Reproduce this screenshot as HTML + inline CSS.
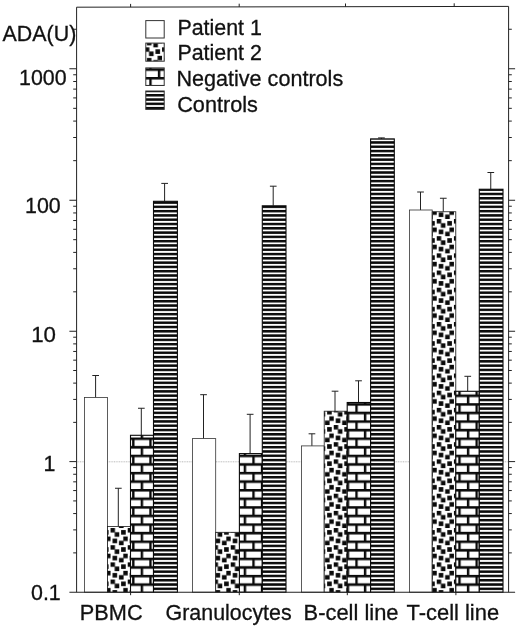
<!DOCTYPE html>
<html lang="en"><head><meta charset="utf-8"><title>ADA activity</title>
<style>html,body{margin:0;padding:0;background:#fff}svg{display:block}text{font-family:"Liberation Sans",Arial,Helvetica,sans-serif;fill:#111;stroke:#111;stroke-width:0.3px}</style>
</head><body>
<svg width="520" height="626" viewBox="0 0 520 626">
<defs>
<pattern id="ps" patternUnits="userSpaceOnUse" x="0" y="201.300" width="20" height="4.292"><rect width="20" height="4.292" fill="#fff"/><rect width="20" height="2.496" fill="#0a0a0a"/></pattern>
<pattern id="pb" patternUnits="userSpaceOnUse" x="132.130" y="437.530" width="17.168" height="17.168"><rect width="17.168" height="17.168" fill="#fff"/><rect x="0" y="-0.15" width="17.168" height="2.646" fill="#0a0a0a"/><rect x="0" y="8.434" width="17.168" height="2.646" fill="#0a0a0a"/><rect x="-0.05" y="0" width="2.446" height="8.584" fill="#0a0a0a"/><rect x="8.534" y="8.584" width="2.446" height="8.584" fill="#0a0a0a"/></pattern>
<pattern id="pd" patternUnits="userSpaceOnUse" x="110.550" y="528.050" width="17.168" height="17.168"><rect width="17.168" height="17.168" fill="#fff"/><rect x="-0.150" y="-0.150" width="4.592" height="4.592" fill="#0a0a0a"/><rect x="10.580" y="1.996" width="4.592" height="4.592" fill="#0a0a0a"/><rect x="4.142" y="4.142" width="4.592" height="4.592" fill="#0a0a0a"/><rect x="12.726" y="8.434" width="4.592" height="4.592" fill="#0a0a0a"/><rect x="1.996" y="10.580" width="4.592" height="4.592" fill="#0a0a0a"/><rect x="8.434" y="12.726" width="4.592" height="4.592" fill="#0a0a0a"/></pattern>
</defs>
<rect width="520" height="626" fill="#fff"/>
<line x1="76.6" y1="461.80" x2="508.6" y2="461.80" stroke="#8c8c8c" stroke-width="0.6" stroke-dasharray="1 0.7"/>
<path d="M95.60 397.50V375.50M92.30 375.50H99.00" stroke="#222" stroke-width="1" fill="none"/>
<rect x="84.50" y="397.50" width="23.00" height="194.70" fill="#fff" stroke="#333" stroke-width="0.8"/>
<path d="M118.30 526.50V488.25M115.00 488.25H121.70" stroke="#222" stroke-width="1" fill="none"/>
<rect x="107.50" y="526.50" width="23.00" height="65.70" fill="url(#pd)" stroke="#1a1a1a" stroke-width="0.8"/>
<path d="M141.30 435.30V408.25M138.00 408.25H144.70" stroke="#222" stroke-width="1" fill="none"/>
<rect x="130.50" y="435.30" width="23.00" height="156.90" fill="url(#pb)" stroke="#0a0a0a" stroke-width="1.1"/>
<path d="M164.60 201.30V183.40M161.30 183.40H168.00" stroke="#222" stroke-width="1" fill="none"/>
<rect x="153.50" y="201.30" width="23.90" height="390.90" fill="url(#ps)" stroke="#0a0a0a" stroke-width="1.1"/>
<path d="M203.50 438.60V394.70M200.20 394.70H206.90" stroke="#222" stroke-width="1" fill="none"/>
<rect x="192.40" y="438.60" width="23.30" height="153.60" fill="#fff" stroke="#333" stroke-width="0.8"/>
<rect x="215.70" y="532.30" width="23.70" height="59.90" fill="url(#pd)" stroke="#1a1a1a" stroke-width="0.8"/>
<path d="M250.10 453.60V414.30M246.80 414.30H253.50" stroke="#222" stroke-width="1" fill="none"/>
<rect x="239.40" y="453.60" width="22.90" height="138.60" fill="url(#pb)" stroke="#0a0a0a" stroke-width="1.1"/>
<path d="M273.20 205.80V186.20M269.90 186.20H276.60" stroke="#222" stroke-width="1" fill="none"/>
<rect x="262.30" y="205.80" width="23.70" height="386.40" fill="url(#ps)" stroke="#0a0a0a" stroke-width="1.1"/>
<path d="M311.90 445.90V433.80M308.60 433.80H315.30" stroke="#222" stroke-width="1" fill="none"/>
<rect x="301.50" y="445.90" width="22.70" height="146.30" fill="#fff" stroke="#333" stroke-width="0.8"/>
<path d="M335.00 411.20V391.20M331.70 391.20H338.40" stroke="#222" stroke-width="1" fill="none"/>
<rect x="324.20" y="411.20" width="23.00" height="181.00" fill="url(#pd)" stroke="#1a1a1a" stroke-width="0.8"/>
<path d="M358.50 402.50V380.80M355.20 380.80H361.90" stroke="#222" stroke-width="1" fill="none"/>
<rect x="347.20" y="402.50" width="23.40" height="189.70" fill="url(#pb)" stroke="#0a0a0a" stroke-width="1.1"/>
<path d="M381.40 138.90V137.90M378.10 137.90H384.80" stroke="#222" stroke-width="1" fill="none"/>
<rect x="370.60" y="138.90" width="23.70" height="453.30" fill="url(#ps)" stroke="#0a0a0a" stroke-width="1.1"/>
<path d="M420.50 210.00V192.00M417.20 192.00H423.90" stroke="#222" stroke-width="1" fill="none"/>
<rect x="409.50" y="210.00" width="22.70" height="382.20" fill="#fff" stroke="#333" stroke-width="0.8"/>
<path d="M443.25 211.75V198.25M439.95 198.25H446.65" stroke="#222" stroke-width="1" fill="none"/>
<rect x="432.20" y="211.75" width="23.60" height="380.45" fill="url(#pd)" stroke="#1a1a1a" stroke-width="0.8"/>
<path d="M467.70 391.30V376.30M464.40 376.30H471.10" stroke="#222" stroke-width="1" fill="none"/>
<rect x="455.80" y="391.30" width="23.50" height="200.90" fill="url(#pb)" stroke="#0a0a0a" stroke-width="1.1"/>
<path d="M490.75 189.25V172.50M487.45 172.50H494.15" stroke="#222" stroke-width="1" fill="none"/>
<rect x="479.30" y="189.25" width="23.70" height="402.95" fill="url(#ps)" stroke="#0a0a0a" stroke-width="1.1"/>
<path d="M76.6 592.2V7.2L508.6 6.40V592.2" stroke="#222" stroke-width="1" fill="none"/>
<path d="M69.40 592.2H515.10" stroke="#222" stroke-width="1.1" fill="none"/>
<path d="M73.20 552.89H76.6M508.6 552.89h3.2M73.20 529.89H76.6M508.6 529.89h3.2M73.20 513.57H76.6M508.6 513.57h3.2M73.20 500.91H76.6M508.6 500.91h3.2M73.20 490.57H76.6M508.6 490.57h3.2M73.20 481.83H76.6M508.6 481.83h3.2M73.20 474.26H76.6M508.6 474.26h3.2M73.20 467.58H76.6M508.6 467.58h3.2M69.40 461.60H76.6M508.6 461.60h6.5M73.20 422.36H76.6M508.6 422.36h3.2M73.20 399.41H76.6M508.6 399.41h3.2M73.20 383.12H76.6M508.6 383.12h3.2M73.20 370.49H76.6M508.6 370.49h3.2M73.20 360.17H76.6M508.6 360.17h3.2M73.20 351.44H76.6M508.6 351.44h3.2M73.20 343.88H76.6M508.6 343.88h3.2M73.20 337.21H76.6M508.6 337.21h3.2M69.40 331.25H76.6M508.6 331.25h6.5M73.20 291.82H76.6M508.6 291.82h3.2M73.20 268.75H76.6M508.6 268.75h3.2M73.20 252.38H76.6M508.6 252.38h3.2M73.20 239.68H76.6M508.6 239.68h3.2M73.20 229.31H76.6M508.6 229.31h3.2M73.20 220.54H76.6M508.6 220.54h3.2M73.20 212.95H76.6M508.6 212.95h3.2M73.20 206.24H76.6M508.6 206.24h3.2M69.40 200.25H76.6M508.6 200.25h6.5M73.20 160.66H76.6M508.6 160.66h3.2M73.20 137.51H76.6M508.6 137.51h3.2M73.20 121.08H76.6M508.6 121.08h3.2M73.20 108.34H76.6M508.6 108.34h3.2M73.20 97.92H76.6M508.6 97.92h3.2M73.20 89.12H76.6M508.6 89.12h3.2M73.20 81.49H76.6M508.6 81.49h3.2M73.20 74.77H76.6M508.6 74.77h3.2M69.40 68.75H76.6M508.6 68.75h6.5M73.20 29.25H76.6M508.6 29.25h3.2" stroke="#222" stroke-width="1" fill="none"/>
<path d="M130.6 7.10v-3.2M239.2 6.90v-3.2M345.5 6.70v-3.2M454.2 6.50v-3.2M130.6 592.2v3M239.3 592.2v3M347.3 592.2v3M455.9 592.2v3" stroke="#222" stroke-width="1" fill="none"/>
<rect x="145.8" y="20.6" width="18.4" height="17.40" fill="#fff" stroke="#333" stroke-width="1"/>
<rect x="145.8" y="43.1" width="18.4" height="18.10" fill="url(#pd)" stroke="#333" stroke-width="1"/>
<rect x="145.8" y="67.9" width="18.4" height="17.60" fill="url(#pb)" stroke="#333" stroke-width="1"/>
<rect x="145.8" y="91.0" width="18.4" height="18.40" fill="url(#ps)" stroke="#333" stroke-width="1"/>
<text x="177.4" y="35" font-size="21.4" text-anchor="start">Patient 1</text>
<text x="177.4" y="59.6" font-size="21.4" text-anchor="start">Patient 2</text>
<text x="176.4" y="86.2" font-size="21.4" text-anchor="start" textLength="166.8" lengthAdjust="spacingAndGlyphs">Negative controls</text>
<text x="177.2" y="111.6" font-size="21.4" text-anchor="start" textLength="80.7" lengthAdjust="spacingAndGlyphs">Controls</text>
<text x="2.6" y="41.2" font-size="21.4" text-anchor="start">ADA(U)</text>
<text x="19" y="84.6" font-size="21.4" text-anchor="start">1000</text>
<text x="25" y="213.4" font-size="21.4" text-anchor="start">100</text>
<text x="31.2" y="342.4" font-size="21.4" text-anchor="start" textLength="24.8" lengthAdjust="spacingAndGlyphs">10</text>
<text x="43.6" y="471" font-size="21.4" text-anchor="start">1</text>
<text x="31" y="599.8" font-size="21.4" text-anchor="start">0.1</text>
<text x="79.8" y="619.5" font-size="21.4" text-anchor="start" textLength="62.8" lengthAdjust="spacingAndGlyphs">PBMC</text>
<text x="165.6" y="619.7" font-size="21.4" text-anchor="start">Granulocytes</text>
<text x="303.6" y="619.7" font-size="21.4" text-anchor="start" textLength="94.9" lengthAdjust="spacingAndGlyphs">B-cell line</text>
<text x="406.5" y="619.6" font-size="21.4" text-anchor="start" textLength="92.6" lengthAdjust="spacingAndGlyphs">T-cell line</text>
</svg>
</body></html>
